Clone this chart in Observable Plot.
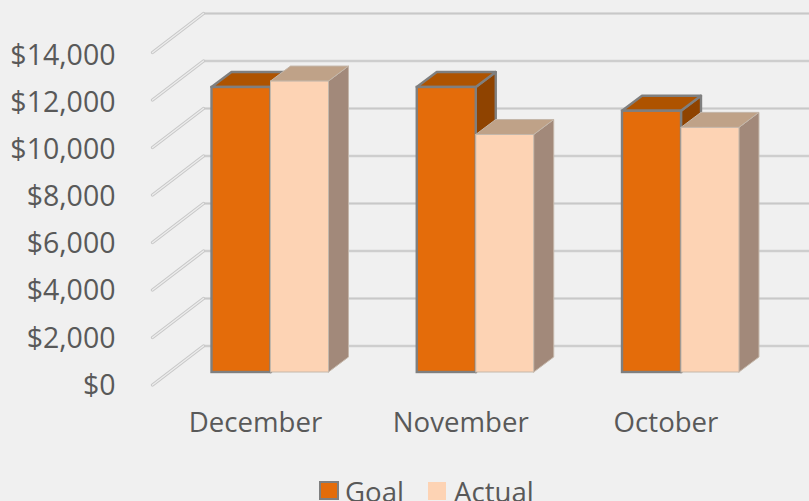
<!DOCTYPE html>
<html>
<head>
<meta charset="utf-8">
<script src="https://cdn.jsdelivr.net/npm/d3@7"></script>
<script src="https://cdn.jsdelivr.net/npm/@observablehq/plot@0.6"></script>
<style>
html,body{margin:0;padding:0;background:#f0f0f0;overflow:hidden;width:809px;height:501px}
svg{display:block;background:transparent!important}
#legend{position:relative;height:46px;font:27.6px "Open Sans",sans-serif;color:#595959}
#legend span{position:absolute;white-space:nowrap;line-height:30px}
#legend i{position:absolute;box-sizing:border-box;display:block}
</style>
</head>
<body>
<div id="chart"></div>
<div id="legend">
<i style="left:319px;top:26px;width:20px;height:19px;background:#e46c0a;border:2.5px solid #7f7f7f"></i>
<span style="left:345px;top:21px">Goal</span>
<i style="left:428px;top:27px;width:18px;height:18px;background:#fdd3b4"></i>
<span style="left:454px;top:21px">Actual</span>
</div>
<script>
const categories = ["December", "November", "October"];
const goal = [12000, 12000, 11000];
const actual = [12250, 10000, 10300];
const yTicks = [0, 2000, 4000, 6000, 8000, 10000, 12000, 14000];

// Projection constants in data units (category index, dollars)
const halfGoal = 0.2875, halfActual = 0.2825, depthX = 0.0974, depthY = 632;
const wallFrontX = -0.5773, wallBackX = -0.329, wallFrontY = -526, wallBackY = 1116;
const xMin = -0.7333, xMax = 2.6236;
const labelPerspective = 0.9916;

const bars = (vals, side) => vals.map((v, i) => ({
  key: categories[i],
  xl: side === 0 ? i - halfGoal : i,
  xr: side === 0 ? i : i + halfActual,
  v
}));
const sidePts = b => [
  {k: b.key, x: b.xr, y1: 0, y2: b.v},
  {k: b.key, x: b.xr + depthX, y1: depthY, y2: b.v + depthY}
];
const topPts = b => [
  {k: b.key, x1: b.xl, x2: b.xr, y: b.v},
  {k: b.key, x1: b.xl + depthX, x2: b.xr + depthX, y: b.v + depthY}
];
function cuboid(vals, side, c) {
  const bs = bars(vals, side);
  return [
    Plot.area(bs.flatMap(sidePts), {x1: "x", x2: "x", y1: "y1", y2: "y2", z: "k", fill: c.side, stroke: c.edge, strokeWidth: c.w, strokeLinejoin: "round"}),
    Plot.area(bs.flatMap(topPts), {x1: "x1", x2: "x2", y1: "y", y2: "y", z: "k", fill: c.top, stroke: c.edge, strokeWidth: c.w, strokeLinejoin: "round"}),
    Plot.rect(bs, {x1: "xl", x2: "xr", y1: 0, y2: "v", fill: c.front, stroke: c.edge, strokeWidth: c.w, inset: 0})
  ];
}

const gridH = (stroke, w) => Plot.link(yTicks, {x1: wallBackX, x2: xMax, y1: d => d + wallBackY, y2: d => d + wallBackY, stroke, strokeWidth: w});
const gridD = (stroke, w) => Plot.link(yTicks, {x1: wallFrontX, x2: wallBackX, y1: d => d + wallFrontY, y2: d => d + wallBackY, stroke, strokeWidth: w, strokeLinecap: "round"});

const chart = Plot.plot({
  width: 809,
  height: 455,
  marginLeft: 120,
  marginRight: 0,
  marginTop: 39.5,
  marginBottom: 83,
  style: {background: "transparent", fontFamily: "'Open Sans',sans-serif", overflow: "visible"},
  x: {domain: [xMin, xMax], axis: null},
  y: {domain: [0, 14000], axis: null},
  marks: [
    gridH("#dfdfdf", 3),
    gridH("#c8c8c8", 1.4),
    gridD("#c8c8c8", 3.4),
    gridD("#ececec", 1.4),
    ...cuboid(goal, 0, {front: "#e46c0a", top: "#ae5300", side: "#8f4300", edge: "#7f7f7f", w: 2.4}),
    ...cuboid(actual, 1, {front: "#fdd3b4", top: "#bfa288", side: "#a2897a", edge: "#c4b7aa", w: 1}),
    Plot.text(yTicks, {x: xMin, y: d => d * labelPerspective, dx: -5, dy: 13, textAnchor: "end", fontSize: 28.5, fill: "#595959", text: d => "$" + d3.format(",")(d)}),
    Plot.axisX({ticks: [0, 1, 2], anchor: "bottom", tickSize: 0, tickPadding: 40, dx: -15.5, label: null, fontSize: 27.6, color: "#595959", tickFormat: d => categories[d]})
  ]
});
document.getElementById("chart").append(chart);
</script>
</body>
</html>
